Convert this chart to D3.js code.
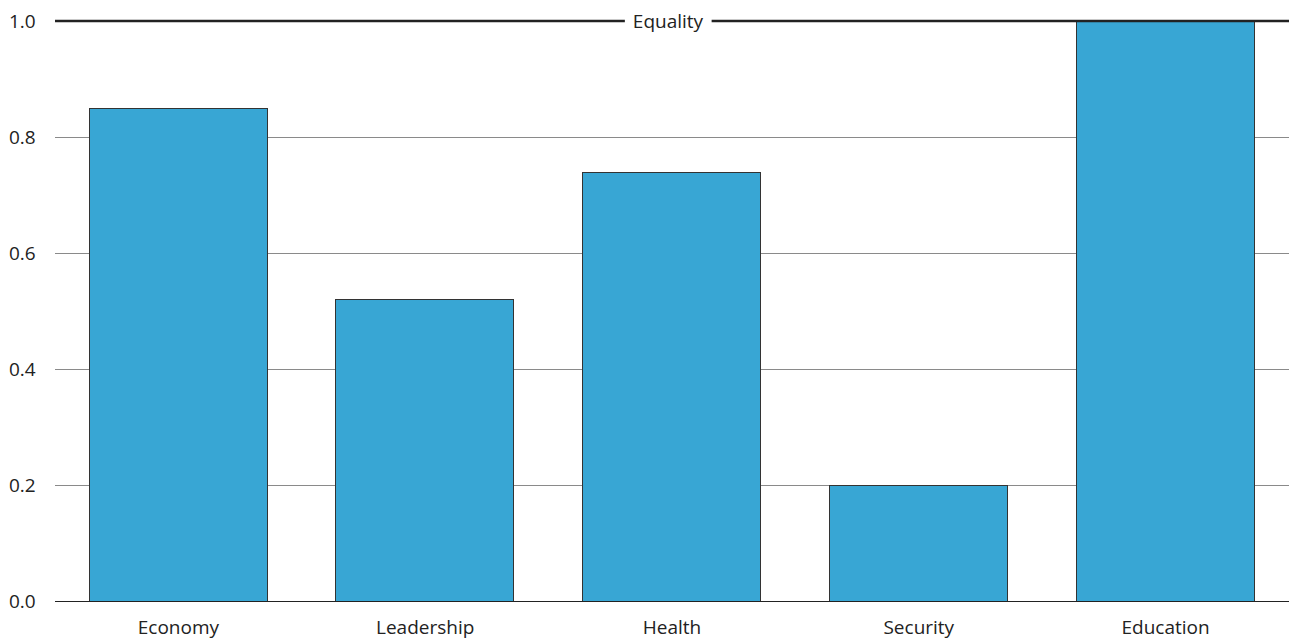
<!DOCTYPE html>
<html>
<head>
<meta charset="UTF-8" />
<title>Equality bars</title>
<style>
  body { margin: 0; background: #fff; }
  text { font-family: "Open Sans", sans-serif; fill: #222; }
</style>
</head>
<body>
<script src="https://d3js.org/d3.v7.min.js"></script>
<script>
var categories = ["Economy", "Leadership", "Health", "Security", "Education"];
var values = [0.85, 0.52, 0.74, 0.2, 1.0];
var yTicks = [0, 0.2, 0.4, 0.6, 0.8, 1.0];
var refLabel = "Equality";

var width = 1289, height = 641;
var margin = { top: 21, right: 0, bottom: 40, left: 55 };

var svg = d3.select("body").append("svg")
    .attr("width", width)
    .attr("height", height);

var x = d3.scaleBand()
    .domain(categories)
    .range([margin.left, width - margin.right])
    .paddingInner(0.28)
    .paddingOuter(0.14);

var y = d3.scaleLinear()
    .domain([0, 1])
    .range([height - margin.bottom, margin.top]);

// grid lines
svg.append("g")
    .selectAll("line")
    .data(yTicks.filter(function(d) { return d > 0 && d < 1; }))
    .join("line")
    .attr("x1", margin.left)
    .attr("x2", width - margin.right)
    .attr("y1", function(d) { return y(d) + 0.5; })
    .attr("y2", function(d) { return y(d) + 0.5; })
    .attr("stroke", "#8a8a8a")
    .attr("stroke-width", 1);

// tick labels
svg.append("g")
    .selectAll("text")
    .data(yTicks)
    .join("text")
    .attr("x", 9)
    .attr("y", function(d) { return y(d); })
    .attr("dy", "0.35em")
    .style("font-size", "19px")
    .text(function(d) { return d3.format(".1f")(d); });

// bars
svg.append("g")
    .selectAll("rect")
    .data(values)
    .join("rect")
    .attr("x", function(d, i) { return Math.round(x(categories[i])) - 0.5; })
    .attr("y", function(d) { return Math.round(y(d)) + 0.5; })
    .attr("width", Math.round(x.bandwidth()))
    .attr("height", function(d) { return Math.round(y(0)) - Math.round(y(d)); })
    .attr("fill", "#38a6d4")
    .attr("stroke", "#333")
    .attr("stroke-width", 1);

// zero line
svg.append("line")
    .attr("x1", margin.left)
    .attr("x2", width - margin.right)
    .attr("y1", y(0) + 0.5)
    .attr("y2", y(0) + 0.5)
    .attr("stroke", "#222")
    .attr("stroke-width", 1);

// equality line
svg.append("line")
    .attr("x1", margin.left)
    .attr("x2", width - margin.right)
    .attr("y1", y(1))
    .attr("y2", y(1))
    .attr("stroke", "#222")
    .attr("stroke-width", 2.5);

var labG = svg.append("g");
var labBg = labG.append("rect").attr("fill", "#fff");
var lab = labG.append("text")
    .attr("x", 668)
    .attr("y", y(1))
    .attr("dy", "0.35em")
    .attr("text-anchor", "middle")
    .style("font-size", "19px")
    .text(refLabel);
var bb = lab.node().getBBox();
labBg
    .attr("x", bb.x - 8)
    .attr("y", bb.y)
    .attr("width", bb.width + 16)
    .attr("height", bb.height);

// category labels
svg.append("g")
    .selectAll("text")
    .data(categories)
    .join("text")
    .attr("x", function(d) { return x(d) + x.bandwidth() / 2; })
    .attr("y", y(0) + 26)
    .attr("dy", "0.35em")
    .attr("text-anchor", "middle")
    .style("font-size", "19px")
    .text(function(d) { return d; });
</script>
</body>
</html>
